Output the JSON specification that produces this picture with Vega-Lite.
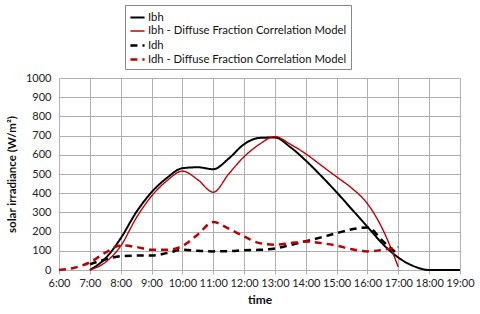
{
  "$schema": "https://vega.github.io/schema/vega-lite/v6.json",
  "width": 401,
  "height": 192,
  "autosize": {"type": "none"},
  "padding": {"left": 59, "top": 78, "right": 20, "bottom": 44},
  "background": "white",
  "config": {
    "font": "Lato",
    "view": {"stroke": null}
  },
  "data": {
    "values": [
      {"t": 7, "v": 0, "s": "Ibh"}, {"t": 7.5, "v": 60, "s": "Ibh"}, {"t": 8, "v": 165, "s": "Ibh"}, {"t": 8.5, "v": 300, "s": "Ibh"}, {"t": 9, "v": 405, "s": "Ibh"}, {"t": 9.5, "v": 480, "s": "Ibh"}, {"t": 10, "v": 530, "s": "Ibh"}, {"t": 10.5, "v": 535, "s": "Ibh"}, {"t": 11, "v": 525, "s": "Ibh"}, {"t": 11.5, "v": 580, "s": "Ibh"}, {"t": 12, "v": 655, "s": "Ibh"}, {"t": 12.5, "v": 688, "s": "Ibh"}, {"t": 13, "v": 690, "s": "Ibh"}, {"t": 13.5, "v": 640, "s": "Ibh"}, {"t": 14, "v": 570, "s": "Ibh"}, {"t": 14.5, "v": 490, "s": "Ibh"}, {"t": 15, "v": 405, "s": "Ibh"}, {"t": 15.5, "v": 315, "s": "Ibh"}, {"t": 16, "v": 225, "s": "Ibh"}, {"t": 16.5, "v": 135, "s": "Ibh"}, {"t": 17, "v": 65, "s": "Ibh"}, {"t": 17.5, "v": 20, "s": "Ibh"}, {"t": 18, "v": 0, "s": "Ibh"}, {"t": 18.5, "v": 0, "s": "Ibh"}, {"t": 19, "v": 0, "s": "Ibh"},
      {"t": 7, "v": 0, "s": "Ibh - Diffuse Fraction Correlation Model"}, {"t": 7.5, "v": 40, "s": "Ibh - Diffuse Fraction Correlation Model"}, {"t": 8, "v": 125, "s": "Ibh - Diffuse Fraction Correlation Model"}, {"t": 8.5, "v": 270, "s": "Ibh - Diffuse Fraction Correlation Model"}, {"t": 9, "v": 385, "s": "Ibh - Diffuse Fraction Correlation Model"}, {"t": 9.5, "v": 465, "s": "Ibh - Diffuse Fraction Correlation Model"}, {"t": 10, "v": 515, "s": "Ibh - Diffuse Fraction Correlation Model"}, {"t": 10.5, "v": 470, "s": "Ibh - Diffuse Fraction Correlation Model"}, {"t": 11, "v": 405, "s": "Ibh - Diffuse Fraction Correlation Model"}, {"t": 11.5, "v": 500, "s": "Ibh - Diffuse Fraction Correlation Model"}, {"t": 12, "v": 590, "s": "Ibh - Diffuse Fraction Correlation Model"}, {"t": 12.5, "v": 655, "s": "Ibh - Diffuse Fraction Correlation Model"}, {"t": 13, "v": 695, "s": "Ibh - Diffuse Fraction Correlation Model"}, {"t": 13.5, "v": 655, "s": "Ibh - Diffuse Fraction Correlation Model"}, {"t": 14, "v": 605, "s": "Ibh - Diffuse Fraction Correlation Model"}, {"t": 14.5, "v": 545, "s": "Ibh - Diffuse Fraction Correlation Model"}, {"t": 15, "v": 485, "s": "Ibh - Diffuse Fraction Correlation Model"}, {"t": 15.5, "v": 425, "s": "Ibh - Diffuse Fraction Correlation Model"}, {"t": 16, "v": 345, "s": "Ibh - Diffuse Fraction Correlation Model"}, {"t": 16.5, "v": 210, "s": "Ibh - Diffuse Fraction Correlation Model"}, {"t": 17, "v": 15, "s": "Ibh - Diffuse Fraction Correlation Model"},
      {"t": 7, "v": 30, "s": "Idh"}, {"t": 7.5, "v": 55, "s": "Idh"}, {"t": 8, "v": 72, "s": "Idh"}, {"t": 8.5, "v": 75, "s": "Idh"}, {"t": 9, "v": 75, "s": "Idh"}, {"t": 9.5, "v": 88, "s": "Idh"}, {"t": 10, "v": 105, "s": "Idh"}, {"t": 10.5, "v": 100, "s": "Idh"}, {"t": 11, "v": 97, "s": "Idh"}, {"t": 11.5, "v": 98, "s": "Idh"}, {"t": 12, "v": 103, "s": "Idh"}, {"t": 12.5, "v": 105, "s": "Idh"}, {"t": 13, "v": 112, "s": "Idh"}, {"t": 13.5, "v": 130, "s": "Idh"}, {"t": 14, "v": 150, "s": "Idh"}, {"t": 14.5, "v": 170, "s": "Idh"}, {"t": 15, "v": 192, "s": "Idh"}, {"t": 15.5, "v": 212, "s": "Idh"}, {"t": 16, "v": 222, "s": "Idh"}, {"t": 16.5, "v": 150, "s": "Idh"}, {"t": 17, "v": 80, "s": "Idh"},
      {"t": 6, "v": 0, "s": "Idh - Diffuse Fraction Correlation Model"}, {"t": 6.5, "v": 12, "s": "Idh - Diffuse Fraction Correlation Model"}, {"t": 7, "v": 40, "s": "Idh - Diffuse Fraction Correlation Model"}, {"t": 7.5, "v": 90, "s": "Idh - Diffuse Fraction Correlation Model"}, {"t": 8, "v": 128, "s": "Idh - Diffuse Fraction Correlation Model"}, {"t": 8.5, "v": 120, "s": "Idh - Diffuse Fraction Correlation Model"}, {"t": 9, "v": 105, "s": "Idh - Diffuse Fraction Correlation Model"}, {"t": 9.5, "v": 105, "s": "Idh - Diffuse Fraction Correlation Model"}, {"t": 10, "v": 125, "s": "Idh - Diffuse Fraction Correlation Model"}, {"t": 10.5, "v": 185, "s": "Idh - Diffuse Fraction Correlation Model"}, {"t": 11, "v": 250, "s": "Idh - Diffuse Fraction Correlation Model"}, {"t": 11.5, "v": 215, "s": "Idh - Diffuse Fraction Correlation Model"}, {"t": 12, "v": 175, "s": "Idh - Diffuse Fraction Correlation Model"}, {"t": 12.5, "v": 140, "s": "Idh - Diffuse Fraction Correlation Model"}, {"t": 13, "v": 132, "s": "Idh - Diffuse Fraction Correlation Model"}, {"t": 13.5, "v": 140, "s": "Idh - Diffuse Fraction Correlation Model"}, {"t": 14, "v": 148, "s": "Idh - Diffuse Fraction Correlation Model"}, {"t": 14.5, "v": 140, "s": "Idh - Diffuse Fraction Correlation Model"}, {"t": 15, "v": 127, "s": "Idh - Diffuse Fraction Correlation Model"}, {"t": 15.5, "v": 108, "s": "Idh - Diffuse Fraction Correlation Model"}, {"t": 16, "v": 97, "s": "Idh - Diffuse Fraction Correlation Model"}, {"t": 16.5, "v": 105, "s": "Idh - Diffuse Fraction Correlation Model"}, {"t": 17, "v": 120, "s": "Idh - Diffuse Fraction Correlation Model"}
    ]
  },
  "mark": {"type": "line", "interpolate": "monotone"},
  "encoding": {
    "x": {
      "field": "t", "type": "quantitative",
      "scale": {"domain": [6, 19], "nice": false, "zero": false},
      "axis": {
        "values": [6,7,8,9,10,11,12,13,14,15,16,17,18,19],
        "labelExpr": "datum.value + ':00'",
        "labelOverlap": false, "labelFlush": false,
        "title": "time", "titleFontWeight": "bold", "titleFontSize": 12, "titlePadding": 6,
        "labelFontSize": 11, "labelColor": "#222", "titleColor": "#111",
        "gridColor": "#b0b0b0", "gridWidth": 1,
        "domainColor": "#b0b0b0", "tickColor": "#b0b0b0", "tickSize": 4,
        "labelPadding": 3
      }
    },
    "y": {
      "field": "v", "type": "quantitative",
      "scale": {"domain": [0, 1000], "nice": false},
      "axis": {
        "values": [0,100,200,300,400,500,600,700,800,900,1000],
        "format": "d",
        "labelOverlap": false, "labelFlush": false,
        "title": "solar irradiance (W/m²)", "titleFontWeight": "bold", "titleFontSize": 11.5, "titlePadding": 8,
        "labelFontSize": 11, "labelColor": "#222", "titleColor": "#111",
        "gridColor": "#b0b0b0", "gridWidth": 1,
        "domain": false, "ticks": false, "labelPadding": 8
      }
    },
    "color": {
      "field": "s", "type": "nominal",
      "scale": {
        "domain": ["Ibh", "Ibh - Diffuse Fraction Correlation Model", "Idh", "Idh - Diffuse Fraction Correlation Model"],
        "range": ["#000000", "#c00000", "#000000", "#c00000"]
      },
      "legend": {
        "orient": "none", "legendX": 66, "legendY": -73,
        "direction": "vertical", "title": null,
        "strokeColor": "#888", "padding": 4,
        "labelFontSize": 11.3, "labelColor": "#111", "labelOffset": 2, "labelLimit": 400,
        "symbolType": "stroke", "symbolSize": 200, "symbolStrokeWidth": 2,
        "rowPadding": 0
      }
    },
    "strokeDash": {
      "field": "s", "type": "nominal",
      "scale": {
        "domain": ["Ibh", "Ibh - Diffuse Fraction Correlation Model", "Idh", "Idh - Diffuse Fraction Correlation Model"],
        "range": [[1, 0], [1, 0], [7, 5], [7, 5]]
      },
      "legend": null
    },
    "strokeWidth": {
      "field": "s", "type": "ordinal",
      "scale": {
        "type": "ordinal",
        "domain": ["Ibh", "Ibh - Diffuse Fraction Correlation Model", "Idh", "Idh - Diffuse Fraction Correlation Model"],
        "range": [2, 1.4, 2.5, 2.5]
      },
      "legend": null
    }
  }
}
